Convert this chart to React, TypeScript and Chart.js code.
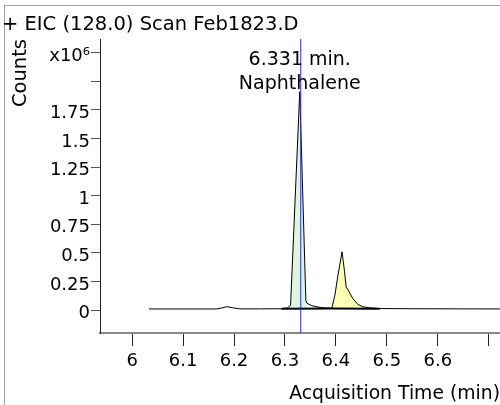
import React, { useEffect, useRef } from 'react';
import { Chart, registerables } from 'chart.js';

Chart.register(...registerables);

const FONT = '"DejaVu Sans", Verdana, sans-serif';
const TITLE = '+ EIC (128.0) Scan Feb1823.D';
const X_TITLE = 'Acquisition Time (min)';
const Y_TITLE = 'Counts';

const X_TICKS = [6.0, 6.1, 6.2, 6.3, 6.4, 6.5, 6.6, 6.7];
const X_TICK_LABELS = ['6', '6.1', '6.2', '6.3', '6.4', '6.5', '6.6', ''];
const Y_TICKS = [0, 0.25, 0.5, 0.75, 1, 1.25, 1.5, 1.75, 2, 2.25];
const Y_TICK_LABELS = ['0', '0.25', '0.5', '0.75', '1', '1.25', '1.5', '1.75', '', 'x10\u2076'];
const X_MIN = 5.937;
const X_MAX = 6.722;
const Y_MIN = -0.2;
const Y_MAX = 2.37;

// retention time (min) and counts (x10^6)
const RT = [
  6.033, 6.1, 6.165, 6.176, 6.186, 6.197, 6.211, 6.25, 6.293, 6.305, 6.311, 6.329,
  6.341, 6.343, 6.353, 6.374, 6.392, 6.398, 6.404, 6.412, 6.417, 6.42, 6.424, 6.433,
  6.443, 6.453, 6.466, 6.486, 6.55, 6.65, 6.75,
];
const COUNTS = [
  0.01, 0.01, 0.01, 0.018, 0.03, 0.021, 0.011, 0.011, 0.012, 0.02, 0.042, 1.91,
  0.083, 0.06, 0.038, 0.02, 0.016, 0.131, 0.306, 0.51, 0.335, 0.204, 0.175, 0.102,
  0.05, 0.029, 0.02, 0.014, 0.012, 0.011, 0.01,
];

const PEAK_RT = 6.331;
const PEAK_NAME = 'Naphthalene';
const PEAK1_RANGE = [6.293, 6.343];
const PEAK2_RANGE = [6.392, 6.466];
const BASE_LEVEL = 0.012;
const BASELINE_RT = [6.293, 6.392, 6.486];
const BASELINE_COUNTS = [0.012, 0.014, 0.013];
const MARKER_RT = [PEAK_RT, PEAK_RT];
const MARKER_COUNTS = [Y_MIN, Y_MAX];

const pts = (xs: number[], ys: number[]) => xs.map((x, i) => ({ x, y: ys[i] }));
const inRange = (r: number[]) =>
  RT.map((x, i) => ({ x, y: COUNTS[i] })).filter((p) => p.x >= r[0] && p.x <= r[1]);

const framePlugin = {
  id: 'frame',
  beforeDraw(chart: any) {
    const ctx = chart.ctx;
    ctx.save();
    ctx.fillStyle = '#a0a0a0';
    ctx.fillRect(4, 5, 496, 1);
    ctx.fillRect(4, 5, 1, 400);
    ctx.restore();
  },
};

const annotationPlugin = {
  id: 'peakLabel',
  afterDatasetsDraw(chart: any) {
    const ctx = chart.ctx;
    const xs = chart.scales.x;
    let apex = 0;
    COUNTS.forEach((c, i) => {
      if (c > COUNTS[apex]) apex = i;
    });
    const cx = xs.getPixelForValue(RT[apex]);
    ctx.save();
    ctx.font = `19px ${FONT}`;
    ctx.fillStyle = '#000';
    ctx.textAlign = 'center';
    ctx.textBaseline = 'alphabetic';
    ctx.fillText(`${PEAK_RT.toFixed(3)} min.`, cx, 65);
    ctx.fillText(PEAK_NAME, cx, 89);
    ctx.restore();
  },
};

export default function App() {
  const ref = useRef<HTMLCanvasElement | null>(null);
  useEffect(() => {
    if (!ref.current) return;
    const chart = new Chart(ref.current, {
      type: 'line',
      data: {
        datasets: [
          {
            data: pts(MARKER_RT, MARKER_COUNTS),
            borderColor: '#2828c8',
            borderWidth: 1,
            pointRadius: 0,
            order: 0,
          },
          {
            data: pts(RT, COUNTS),
            borderColor: '#000',
            borderWidth: 1,
            pointRadius: 0,
            tension: 0,
            order: 1,
          },
          {
            data: pts(BASELINE_RT, BASELINE_COUNTS),
            borderColor: '#000',
            borderWidth: 2,
            pointRadius: 0,
            order: 2,
          },
          {
            data: inRange(PEAK1_RANGE),
            borderColor: 'rgba(0,0,0,0)',
            borderWidth: 0,
            backgroundColor: '#ddf6e0',
            fill: { value: BASE_LEVEL },
            pointRadius: 0,
            order: 3,
          },
          {
            data: inRange(PEAK2_RANGE),
            borderColor: 'rgba(0,0,0,0)',
            borderWidth: 0,
            backgroundColor: '#fdfdb4',
            fill: { value: BASE_LEVEL },
            pointRadius: 0,
            order: 3,
          },
        ],
      },
      options: {
        animation: false,
        responsive: false,
        devicePixelRatio: 1,
        layout: { padding: { top: 0, left: 2, right: 0, bottom: 0 } },
        plugins: {
          legend: { display: false },
          tooltip: { enabled: false },
          title: {
            display: true,
            text: TITLE,
            align: 'start',
            color: '#000',
            font: { family: FONT, size: 19.5, weight: 'normal' },
            padding: { top: 13, bottom: 2.6 },
          },
        },
        scales: {
          x: {
            type: 'linear',
            min: X_MIN,
            max: X_MAX,
            afterFit: (s: any) => {
              s.height = 72;
            },
            afterBuildTicks: (s: any) => {
              s.ticks = X_TICKS.map((v) => ({ value: v }));
            },
            ticks: {
              autoSkip: false,
              maxRotation: 0,
              padding: 5,
              color: '#000',
              font: { family: FONT, size: 18 },
              callback: (v: any) => {
                const i = X_TICKS.findIndex((t) => Math.abs(t - v) < 1e-6);
                return i >= 0 ? X_TICK_LABELS[i] : '';
              },
            },
            grid: { drawOnChartArea: false, drawTicks: true, tickLength: 13, color: '#222', lineWidth: 1 },
            border: { display: true, color: '#888', width: 2 },
            title: {
              display: true,
              text: X_TITLE,
              align: 'end',
              color: '#000',
              font: { family: FONT, size: 18.8 },
              padding: { top: 0, bottom: 0 },
            },
          },
          y: {
            type: 'linear',
            min: Y_MIN,
            max: Y_MAX,
            afterFit: (s: any) => {
              s.width = 98;
            },
            afterBuildTicks: (s: any) => {
              s.ticks = Y_TICKS.map((v) => ({ value: v }));
            },
            ticks: {
              autoSkip: false,
              padding: 1,
              labelOffset: 3.5,
              color: '#000',
              font: { family: FONT, size: 18 },
              callback: (v: any) => {
                const i = Y_TICKS.findIndex((t) => Math.abs(t - v) < 1e-6);
                return i >= 0 ? Y_TICK_LABELS[i] : '';
              },
            },
            grid: { drawOnChartArea: false, drawTicks: true, tickLength: 9, color: '#555', lineWidth: 1 },
            border: { display: true, color: '#222', width: 1 },
            title: {
              display: true,
              text: Y_TITLE,
              align: 'end',
              color: '#000',
              font: { family: FONT, size: 19.5 },
              padding: { top: 7, bottom: 0 },
            },
          },
        },
      },
      plugins: [framePlugin, annotationPlugin],
    } as any);
    return () => chart.destroy();
  }, []);
  return (
    <div style={{ position: 'absolute', left: 0, top: 0, width: 500, height: 405, background: '#fff' }}>
      <canvas ref={ref} width={500} height={405} style={{ display: 'block' }} />
    </div>
  );
}
